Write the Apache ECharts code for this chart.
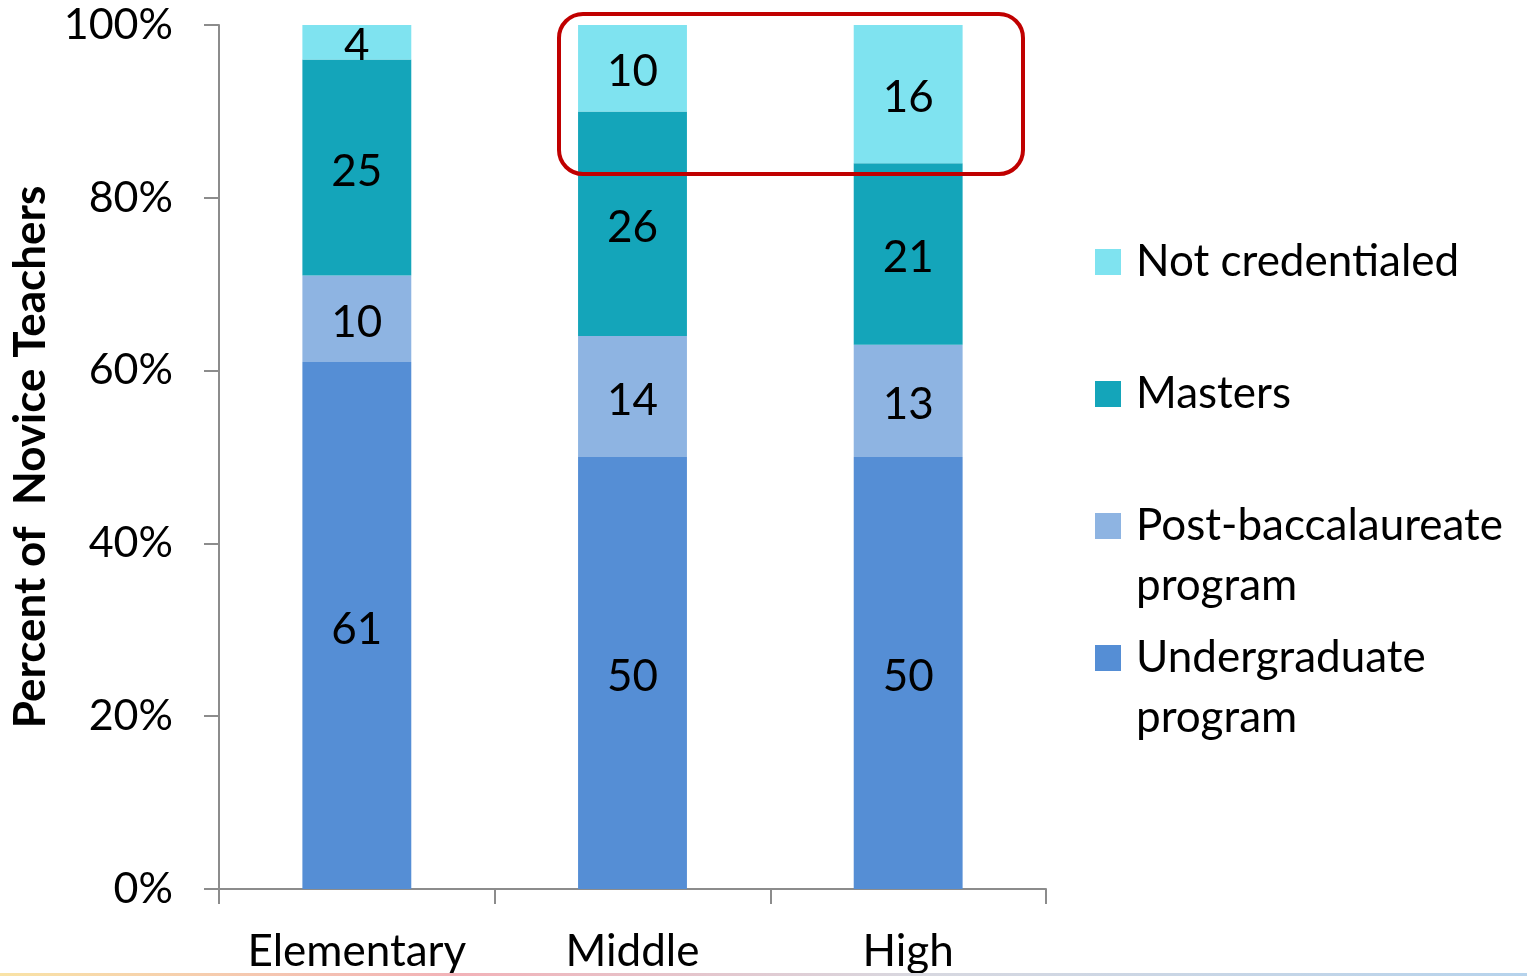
<!DOCTYPE html>
<html>
<head>
<meta charset="utf-8">
<title>Novice Teachers by Preparation Route</title>
<script src="https://cdn.jsdelivr.net/npm/echarts@6/dist/echarts.min.js"></script>
<style>
  html, body { margin: 0; padding: 0; background: #fff; }
  #chart { width: 1527px; height: 976px; }
</style>
</head>
<body>
<div id="chart"></div>
<script>
// School levels along the x axis
const levels = ['Elementary', 'Middle', 'High'];

// Percent of novice teachers by preparation route (stacked bottom to top)
const undergraduate = [61, 50, 50];
const postBacc = [10, 14, 13];
const masters = [25, 26, 21];
const notCredentialed = [4, 10, 16];

// Y axis tick values
const yTicks = [0, 20, 40, 60, 80, 100];

const seriesNames = [
  'Undergraduate program',
  'Post-baccalaureate program',
  'Masters',
  'Not credentialed'
];
const seriesColors = ['#558ED5', '#8EB4E2', '#14A5BA', '#7FE3F0'];
const seriesData = [undergraduate, postBacc, masters, notCredentialed];

const FONT = 'Lato, "Open Sans", sans-serif';
const AXIS_GRAY = '#8C8C8C';

const chart = echarts.init(document.getElementById('chart'), null, { renderer: 'canvas' });

// Square marker with a hidden speck below it, so the square sits on the first
// line of a two-line legend entry.
const tallIcon = 'path://M0,0H26V26H0Z M0,85.99H0.01V86H0Z';

function legendItem(name, top, twoLine) {
  return {
    data: [name],
    orient: 'vertical',
    left: 1095,
    top: top,
    padding: 0,
    icon: twoLine ? tallIcon : 'rect',
    itemWidth: 26,
    itemHeight: twoLine ? 86 : 26,
    selectedMode: false,
    formatter: function (n) {
      return n.replace(' program', '\nprogram');
    },
    textStyle: {
      fontFamily: FONT,
      fontSize: 44,
      color: '#000',
      lineHeight: 60,
      padding: [0, 0, 0, 10]
    }
  };
}

const option = {
  animation: false,
  backgroundColor: '#fff',
  grid: {
    left: 219, right: 481, top: 25, bottom: 87,
    containLabel: false,
    outerBoundsMode: 'none'
  },
  legend: [
    legendItem('Not credentialed', 232, false),
    legendItem('Masters', 364, false),
    legendItem('Post-baccalaureate program', 496, true),
    legendItem('Undergraduate program', 628, true)
  ],
  xAxis: {
    type: 'category',
    data: levels,
    boundaryGap: true,
    axisLine: { show: true, lineStyle: { color: AXIS_GRAY, width: 2 } },
    axisTick: { show: true, length: 15, alignWithLabel: false, lineStyle: { color: AXIS_GRAY, width: 2 } },
    axisLabel: { interval: 0, fontFamily: FONT, fontSize: 44, color: '#000', margin: 41 },
    splitLine: { show: false }
  },
  yAxis: {
    type: 'value',
    min: yTicks[0],
    max: yTicks[yTicks.length - 1],
    interval: yTicks[1] - yTicks[0],
    name: 'Percent of  Novice Teachers',
    nameLocation: 'middle',
    nameRotate: 90,
    nameGap: 165,
    nameTextStyle: { fontFamily: FONT, fontSize: 44, fontWeight: 'bold', color: '#000' },
    axisLine: { show: true, lineStyle: { color: AXIS_GRAY, width: 2 } },
    axisTick: { show: true, length: 15, inside: false, lineStyle: { color: AXIS_GRAY, width: 2 } },
    axisLabel: {
      fontFamily: FONT, fontSize: 43, color: '#000', margin: 46,
      formatter: function (v) { return v + '%'; }
    },
    splitLine: { show: false }
  },
  series: seriesNames.map(function (name, i) {
    return {
      name: name,
      type: 'bar',
      stack: 'total',
      barWidth: '39.5%',
      data: seriesData[i],
      itemStyle: { color: seriesColors[i] },
      label: {
        show: true,
        position: 'inside',
        offset: [0, 4],
        fontFamily: FONT,
        fontSize: 44,
        color: '#000'
      },
      emphasis: { disabled: true }
    };
  }),
  graphic: [
    // Highlight around the not-credentialed share in middle and high schools
    {
      type: 'rect',
      shape: { x: 559, y: 14, width: 464, height: 160, r: 24 },
      style: { fill: 'none', stroke: '#C00000', lineWidth: 4 },
      z: 100
    },
    // Thin decorative band along the bottom edge
    {
      type: 'rect',
      shape: { x: 0, y: 973, width: 1527, height: 3 },
      style: {
        fill: new echarts.graphic.LinearGradient(0, 0, 1, 0, [
          { offset: 0, color: '#F9E3A6' },
          { offset: 0.3, color: '#F2B2B8' },
          { offset: 0.6, color: '#D8D8E0' },
          { offset: 1, color: '#B6D3EC' }
        ])
      },
      z: 100
    }
  ]
};

chart.setOption(option);
</script>
</body>
</html>
